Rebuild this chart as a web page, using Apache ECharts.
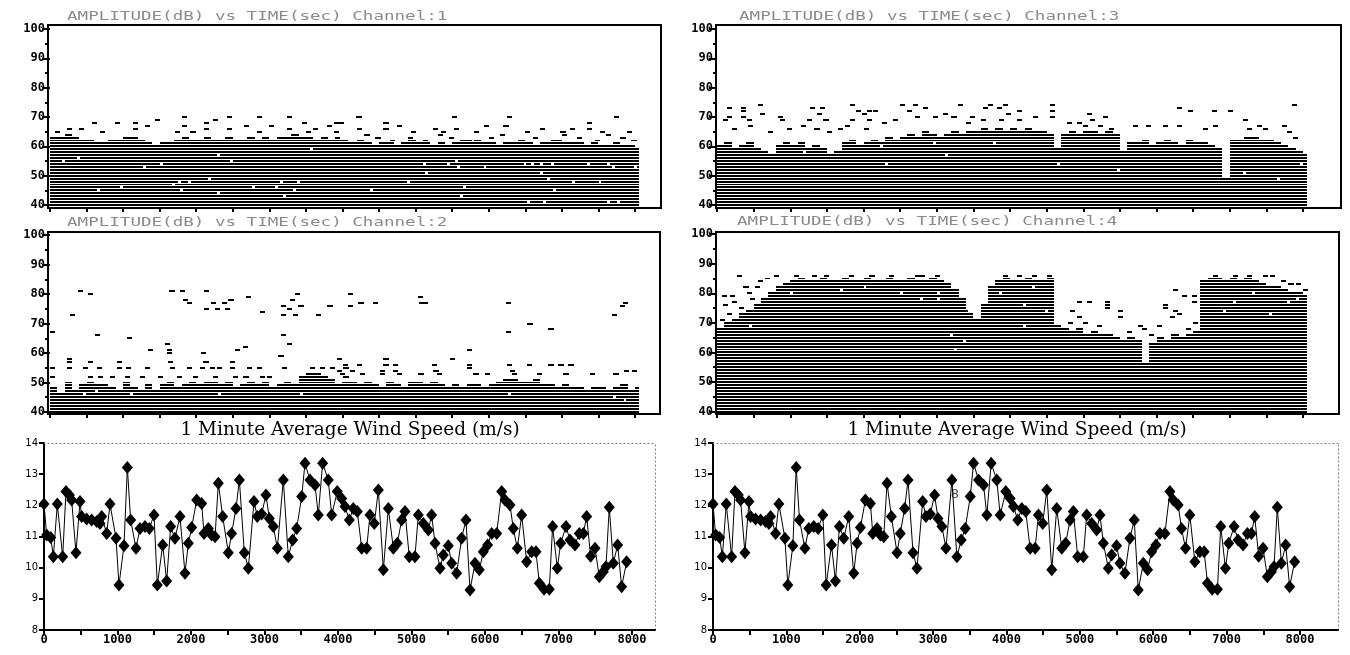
<!DOCTYPE html>
<html><head><meta charset="utf-8">
<script src="https://cdn.jsdelivr.net/npm/echarts@6/dist/echarts.min.js"></script>
<style>html,body{margin:0;padding:0;background:#fff}#c{width:1350px;height:655px}</style>
</head><body><div id="c"></div><script>
// ---------------- DATA ----------------
const binWidth = 100;          // seconds per profile bin
const dataEnd = 8050;          // last recorded second
const dbTicks = [40, 50, 60, 70, 80, 90, 100];
const dbMinorTicks = [45, 55, 65, 75, 85, 95];
const timeTicks = [0,500,1000,1500,2000,2500,3000,3500,4000,4500,5000,5500,6000,6500,7000,7500,8000];
const timeLabels = [0,1000,2000,3000,4000,5000,6000,7000,8000];
const windTicks = [8, 9, 10, 11, 12, 13, 14];

// top of the filled amplitude band per 100 s bin
const ch1Top = [63,63,64,63,62,62,61,61,62,62, 63,63,62,61,60,61,61,62,63,62,
  62,63,62,62,63,62,62,63,62,63, 62,63,63,64,63,63,62,63,62,62,
  61,61,62,61,60,61,61,60,61,62, 61,61,60,61,60,61,62,61,62,61,
  61,60,61,61,62,61,60,61,61,62, 61,61,61,60,61,60,60,61,60,60, 59];
const ch2Top = [48,46,50,47,49,50,49,49,48,47, 50,48,47,49,47,49,50,48,49,50,
  49,50,50,49,50,48,49,50,49,50, 48,49,50,49,52,53,53,52,51,49,
  50,50,49,50,49,48,50,49,48,50, 50,49,50,49,48,49,48,49,49,48,
  49,50,51,51,50,50,51,49,49,48, 49,48,48,47,48,48,47,48,49,47, 48];
const ch3Top = [60,61,59,60,61,59,58,57,60,61, 60,61,59,60,59,57,58,61,62,60,
  61,62,61,63,62,63,64,63,65,64, 63,64,65,64,65,65,66,65,66,65,
  66,65,66,65,65,64,59,64,65,64, 65,65,64,65,64,58,61,61,62,60,
  61,62,61,60,62,61,61,60,59,49, 62,62,63,63,62,62,61,60,59,58, 57];
const ch4Top = [68,70,71,73,74,76,78,80,82,83, 84,85,84,84,85,84,84,85,84,84,
  85,84,84,85,84,84,85,84,84,85, 84,83,81,78,73,71,76,82,84,85,
  84,84,85,84,84,85,69,68,67,68, 66,67,66,66,65,64,65,64,56,63,
  65,64,66,65,66,67,84,85,85,84, 85,84,85,84,83,82,82,81,80,80, 79];

// isolated amplitude hits [time s, dB]
const ch1Dots = [[70,65],[230,66],[400,66],[570,68],[680,65],[890,68],[1140,68],[1140,66],[1300,67],[1440,69],[1710,65],[1800,70],[1800,67],[1920,65],[2100,68],[2100,66],[2230,69],[2420,70],[2420,66],[2650,67],[2830,70],[2830,65],[3000,67],[3240,70],[3240,66],[3440,68],[3500,65],[3600,66],[3790,67],[3880,68],[3880,65],[3950,68],[4190,70],[4200,66],[4560,68],[4560,66],[4740,67],[4930,65],[5240,66],[5340,65],[5500,70],[5520,66],[5800,65],[5930,67],[6200,67],[6250,70],[6500,65],[6700,66],[6980,65],[7110,66],[7340,68],[7340,66],[7520,65],[7710,70],[7890,65],
  [3900,63],[4000,62],[4300,64],[4450,63],[4650,62],[4900,63],[5100,62],[5300,64],[5450,63],[5700,62],[6000,63],[6150,64],[6400,62],[6600,63],[6850,62],[7000,64],[7200,63],[7450,62],[7600,64],[7800,63],[7950,62]];
const ch2Dots = [[0,67],[274,73],[378,81],[524,80],[616,66],[1049,65],[1345,61],[1573,63],[1600,61],[1600,60],[1633,81],[1778,81],[1815,78],[1870,77],[2066,60],[2107,81],[2107,75],[2198,77],[2257,75],[2348,77],[2394,75],[2440,78],[2530,61],[2636,62],[2681,79],[2873,74],[3124,59],[3160,66],[3160,76],[3160,73],[3238,63],[3238,75],[3320,73],[3280,78],[3352,80],[3397,76],[3639,73],[3794,76],[4072,80],[4072,76],[4218,77],[4414,77],[5030,79],[5040,77],[5100,77],[5700,61],[5472,58],[5700,55],[6238,77],[6238,67],[6530,70],[6817,68],[7684,73],[7799,76],[7830,77],
  [0,55],[228,55],[456,55],[638,55],[912,55],[1040,55],[1300,55],[1642,55],[1870,55],[2052,55],[2189,55],[2280,55],[2462,55],[2690,55],[2827,55],[3169,55],[3557,55],[3694,55],[3830,55],[4013,55],
  [228,57],[524,57],[912,57],[1619,57],[2098,57],[2462,57],[228,58],[3922,58],
  [0,52],[524,52],[661,52],[821,52],[1026,52],[1231,52],[1482,52],[1733,52],[1961,52],[2234,52],[2508,52],[2645,52],[2873,52],[2964,52],[4013,52],
  [3921,58],[4560,58],[4012,56],[4195,56],[4560,56],[4696,56],[5221,56],[5700,56],[6247,56],[6520,56],[6817,56],[6954,56],[7090,56],
  [3921,54],[4104,54],[4514,54],[4696,54],[5244,54],[6292,54],[7843,54],[7957,54],
  [3967,53],[4240,53],[4514,53],[4742,53],[5038,53],[5289,53],[5791,53],[5950,53],[6315,53],[6657,53],[7022,53],[7387,53],[7706,53]];
const ch3Dots = [[86,69],[132,73],[132,70],[328,73],[328,72],[328,70],[405,69],[564,74],[587,71],[837,70],[860,69],[1224,69],[1270,73],[1361,71],[1406,73],[1452,69],[1816,74],[1816,69],[1975,71],[1900,72],[2043,72],[2134,72],[2043,69],[2498,74],[2589,72],[2680,74],[2817,73],[3090,71],[3295,74],[3454,70],[3636,73],[3700,74],[3818,73],[3900,74],[4091,72],[3950,71],[4546,74],[4546,72],[4546,70],[5046,71],[5090,69],[5274,70],[6275,73],[6434,72],[6752,72],[6980,72],[7844,74],[6275,67],[6775,67],[6640,66],[7185,69],[7366,67],[7230,66],[7458,66],[7708,67],[7776,65],[7867,63],[5683,67],[5850,67],[6093,67],[4773,68],[4910,68],[4318,70],
  [200,66],[420,67],[700,65],[950,66],[1150,67],[1330,66],[1500,65],[1650,66],[1750,67],[2000,66],[2250,68],[2400,69],[2700,70],[2950,70],[3200,70],[3400,68],[3600,69],[3850,69],[4100,69],[5000,67],[5200,67],[5350,66]];
const ch4Dots = [[41,71],[64,79],[86,76],[132,73],[177,79],[200,77],[268,86],[360,82],[405,80],[300,75],[450,78],[520,82],[560,84],[650,85],[780,86],[1050,86],[1290,86],[1460,86],[1800,86],[2080,86],[2350,86],[2700,86],[2770,86],[2970,86],[3150,80],[3200,79],[3236,78],[3300,76],[3363,74],[3420,72],[3150,77],
  [4818,74],[4910,77],[5046,77],[5296,77],[5296,76],[5296,75],[4910,72],[5000,70],[4796,70],[5478,74],[5478,72],[5182,69],[6229,81],[6343,79],[6479,79],[6479,77],[6093,76],[6093,75],[6229,74],[6275,73],[6183,72],[6502,70],[5751,69],[6001,69],[5600,67],[5900,66],[6400,68],[5800,68],
  [7458,86],[7549,86],[6775,86],[7048,86],[7230,86],[7700,84],[7800,83],[7900,83],[8000,81],[3900,86],[4100,86],[4300,86],[4500,86]];

// gaps inside the filled band [time s, dB]
const ch1Holes = [[160,55],[365,56],[638,45],[958,46],[1277,53],[1505,54],[1664,47],[1756,48],[1892,48],[1778,45],[2166,49],[2280,57],[2462,55],[2280,44],[2759,46],[3078,46],[3146,48],[3192,43],[3329,45],[3374,48],[3557,59],[5107,54],[5130,51],[5426,54],[5540,55],[5563,53],[5608,43],[5928,53],[6475,54],[6580,54],[6700,54],[6850,54],[6703,51],[6794,49],[6885,45],[7136,48],[7341,54],[7501,48],[7615,54],[7683,53],[7980,53],[4377,45],[4879,48],[5654,46],[6520,41],[6748,41],[7615,41],[7752,41]];
const ch2Holes = [[456,46],[616,47],[1100,46],[2300,46],[3420,46],[6270,46],[7843,44],[7700,45]];
const ch3Holes = [[2293,54],[3113,57],[1178,58],[2225,60],[2953,61],[3772,61],[4637,54],[5455,52],[7185,51],[7640,49],[7958,54]];
const ch4Holes = [[441,69],[3181,66],[3236,61],[3363,64],[2771,78],[2999,78],[1679,81],[4182,76],[4182,69],[4477,74],[6912,74],[7048,77],[7540,73],[7776,77],[1000,80],[2000,82],[2500,80],[3000,80],[3850,80],[4300,82],[7300,80],[7900,78]];

// 1 minute average wind speed
const windTime = [0,36,91,127,181,254,299,345,376,435,490,512,580,649,717,762,785,853,898,980,1020,1088,1134,1179,1252,1306,1374,1433,1497,1542,1615,1669,1723,1782,1850,1918,1964,2009,2077,2145,2177,2236,2281,2327,2372,2431,2508,2553,2612,2658,2726,2780,2857,2902,2961,3020,3066,3120,3175,3256,3324,3383,3438,3506,3551,3619,3687,3732,3791,3868,3914,3990,
  4050,4095,4154,4208,4263,4322,4390,4435,4494,4549,4617,4685,4753,4807,4866,4911,4970,5047,5093,5161,5229,5274,5320,5388,5433,5501,5546,5614,5682,5741,5796,5864,5923,5977,6036,6091,6159,6227,6272,6340,6385,6440,6499,6567,6635,6694,6739,6803,6875,6920,6984,7029,7102,7156,7224,7283,7338,7383,7437,7497,7555,7610,7646,7691,7746,7805,7859,7927];
const windSpeed = [12.04,11.05,10.97,10.35,12.04,10.35,12.44,12.33,12.17,10.48,12.12,11.64,11.56,11.53,11.48,11.42,11.64,11.1,12.04,10.94,9.44,10.7,13.21,11.53,10.62,11.26,11.32,11.26,11.69,9.44,10.73,9.57,11.32,10.94,11.64,9.82,10.78,11.29,12.17,12.06,11.1,11.26,11.05,10.99,12.71,11.64,10.48,11.1,11.9,12.81,10.48,9.98,12.12,11.64,11.72,12.33,11.58,11.32,10.62,12.81,10.35,10.89,11.26,12.28,13.35,12.81,12.65,11.69,13.35,12.81,11.69,12.44,
  12.22,11.96,11.53,11.9,11.8,10.62,10.62,11.69,11.42,12.49,9.93,11.9,10.62,10.78,11.53,11.8,10.35,10.35,11.69,11.42,11.21,11.69,10.78,9.98,10.41,10.7,10.14,9.82,10.94,11.53,9.28,10.14,9.93,10.51,10.73,11.1,11.1,12.44,12.17,12.01,11.26,10.62,11.69,10.19,10.51,10.51,9.5,9.31,9.31,11.32,9.98,10.78,11.32,10.89,10.73,11.1,11.1,11.64,10.37,10.62,9.71,9.87,10.03,11.94,10.14,10.73,9.39,10.19];
const annotPoint = [[3298, 12.33]];
const annotText = '8';

const chTitles = ['AMPLITUDE(dB) vs TIME(sec) Channel:1','AMPLITUDE(dB) vs TIME(sec) Channel:2',
                  'AMPLITUDE(dB) vs TIME(sec) Channel:3','AMPLITUDE(dB) vs TIME(sec) Channel:4'];
const windTitle = '1 Minute Average Wind Speed (m/s)';

// ---------------- BUILD ----------------
function buildRuns(top) {
  const out = [];
  const maxL = Math.max.apply(null, top);
  for (let L = 40; L <= maxL; L++) {
    let s = -1;
    for (let i = 0; i <= top.length; i++) {
      const on = i < top.length && top[i] >= L;
      if (on && s < 0) s = i;
      if (!on && s >= 0) { out.push([s * binWidth, Math.min(i * binWidth, dataEnd), L]); s = -1; }
    }
  }
  return out;
}
function toDash(list, len) { return list.map(d => [d[0], d[0] + len, d[1]]); }
function rowRender(color) {
  return function (params, api) {
    const v0 = api.value(0), v1 = api.value(1), L = api.value(2);
    const a = api.coord([v0, L]);
    const b = api.coord([v1, L]);
    const up = api.coord([v0, L + 1]);
    const x0 = Math.round(a[0]), x1 = Math.round(b[0]);
    const yc = Math.round(a[1]);
    const gap = yc - Math.round(up[1]);
    // keep a one-pixel white line between neighbouring rows
    const y = gap >= 3 ? yc - 1 : yc;
    const h = gap >= 3 ? 2 : 1;
    return { type: 'rect', shape: { x: x0, y: y, width: Math.max(2, x1 - x0), height: h },
             style: { fill: color } };
  };
}

const mono = 'DejaVu Sans Mono';
const plain = v => String(v);
const panels = [
  { grid: { left: 48, top: 25, width: 613, height: 183 }, x: [-27, 8355], y: [38.98, 101.36], top: ch1Top, dots: ch1Dots, holes: ch1Holes },
  { grid: { left: 48, top: 232, width: 612, height: 182 }, x: [-27, 8342], y: [39.32, 101.02], top: ch2Top, dots: ch2Dots, holes: ch2Holes },
  { grid: { left: 716, top: 25, width: 625, height: 183 }, x: [-14, 8519], y: [38.98, 101.36], top: ch3Top, dots: ch3Dots, holes: ch3Holes },
  { grid: { left: 716, top: 232, width: 623, height: 182 }, x: [-14, 8491], y: [39.2, 100.7], top: ch4Top, dots: ch4Dots, holes: ch4Holes }
];

const grids = [], xAxes = [], yAxes = [], series = [];
panels.forEach((p, i) => {
  grids.push(Object.assign({ show: true, borderColor: '#000', borderWidth: 2, backgroundColor: '#fff', outerBoundsMode: 'none' }, p.grid));
  xAxes.push({ type: 'value', gridIndex: i, min: p.x[0], max: p.x[1], position: 'bottom', axisLine: { show: false },
    axisTick: { show: true, customValues: timeTicks, length: 4, lineStyle: { color: '#000', width: 2 } },
    axisLabel: { show: false }, splitLine: { show: false } });
  const yi = yAxes.length;
  yAxes.push({ type: 'value', gridIndex: i, min: p.y[0], max: p.y[1], position: 'left', axisLine: { show: false },
    axisTick: { show: true, customValues: dbTicks, length: 8, lineStyle: { color: '#000', width: 2 } },
    axisLabel: { customValues: dbTicks, formatter: plain, color: '#000', fontFamily: mono, fontWeight: 'bold', fontSize: 12, margin: 3 },
    splitLine: { show: false } });
  yAxes.push({ type: 'value', gridIndex: i, min: p.y[0], max: p.y[1], position: 'left', offset: 0, axisLine: { show: false },
    axisTick: { show: true, customValues: dbMinorTicks, length: 3, lineStyle: { color: '#000', width: 2 } },
    axisLabel: { show: false }, splitLine: { show: false } });
  const common = { type: 'custom', xAxisIndex: i, yAxisIndex: yi, encode: { x: [0, 1], y: 2 }, silent: true, animation: false };
  series.push(Object.assign({}, common, { renderItem: rowRender('#000'), data: buildRuns(p.top) }));
  series.push(Object.assign({}, common, { renderItem: rowRender('#000'), data: toDash(p.dots, 70) }));
  series.push(Object.assign({}, common, { renderItem: rowRender('#fff'), data: toDash(p.holes, 40) }));
});

// wind panels
const windPanels = [
  { grid: { left: 44, top: 443, width: 611, height: 187 }, xmax: 8313, annot: false },
  { grid: { left: 713, top: 443, width: 625, height: 187 }, xmax: 8518, annot: true }
];
const windData = windTime.map((t, k) => [t, windSpeed[k]]);
windPanels.forEach((w) => {
  const gi = grids.length;
  grids.push(Object.assign({ show: false, outerBoundsMode: 'none' }, w.grid));
  const xi = xAxes.length;
  xAxes.push({ type: 'value', gridIndex: gi, min: 0, max: w.xmax, position: 'bottom',
    axisLine: { show: true, lineStyle: { color: '#000', width: 2 } },
    axisTick: { show: true, customValues: timeTicks, length: 5, lineStyle: { color: '#000', width: 2 } },
    axisLabel: { customValues: timeLabels, formatter: plain, color: '#000', fontFamily: mono, fontWeight: 'bold', fontSize: 12, margin: 4 },
    splitLine: { show: false } });
  xAxes.push({ type: 'value', gridIndex: gi, min: 0, max: w.xmax, position: 'top',
    axisLine: { show: true, onZero: false, lineStyle: { color: '#777', width: 1, type: [1, 3] } },
    axisTick: { show: false }, axisLabel: { show: false }, splitLine: { show: false } });
  const yi = yAxes.length;
  yAxes.push({ type: 'value', gridIndex: gi, min: 8, max: 14, position: 'left',
    axisLine: { show: true, lineStyle: { color: '#000', width: 2 } },
    axisTick: { show: true, customValues: windTicks, length: 5, lineStyle: { color: '#000', width: 2 } },
    axisLabel: { customValues: windTicks, formatter: plain, color: '#000', fontFamily: 'DejaVu Sans', fontSize: 10, margin: 6 },
    splitLine: { show: false } });
  yAxes.push({ type: 'value', gridIndex: gi, min: 8, max: 14, position: 'right',
    axisLine: { show: true, onZero: false, lineStyle: { color: '#777', width: 1, type: [1, 3] } },
    axisTick: { show: false }, axisLabel: { show: false }, splitLine: { show: false } });
  series.push({ type: 'line', xAxisIndex: xi, yAxisIndex: yi, data: windData, symbol: 'diamond', symbolSize: [11, 13],
    showAllSymbol: true, itemStyle: { color: '#000' }, lineStyle: { color: '#000', width: 1 }, animation: false, silent: true });
  if (w.annot) {
    series.push({ type: 'scatter', xAxisIndex: xi, yAxisIndex: yi, data: annotPoint, symbolSize: 1,
      itemStyle: { color: 'rgba(0,0,0,0)' }, silent: true, animation: false,
      label: { show: true, position: 'inside', formatter: annotText, fontFamily: 'DejaVu Sans', fontSize: 13, color: '#222' } });
  }
});

const graphic = [
  { x: 67, y: 17, t: chTitles[0] }, { x: 67, y: 223, t: chTitles[1] },
  { x: 739, y: 17, t: chTitles[2] }, { x: 737, y: 222, t: chTitles[3] }
].map(g => ({ type: 'text', x: g.x, y: g.y, scaleX: 1.35, silent: true,
  style: { text: g.t, fontFamily: mono, fontSize: 13, fill: '#8a8a8a', verticalAlign: 'middle', align: 'left' } }));
[[350, 430], [1017, 430]].forEach(c => graphic.push({ type: 'text', x: c[0], y: c[1], silent: true,
  style: { text: windTitle, fontFamily: 'DejaVu Serif', fontSize: 18.5, fill: '#000', align: 'center', verticalAlign: 'middle' } }));

const chart = echarts.init(document.getElementById('c'), null, { renderer: 'canvas' });
chart.setOption({ animation: false, backgroundColor: '#fff', grid: grids, xAxis: xAxes, yAxis: yAxes, series: series, graphic: graphic });
</script></body></html>
